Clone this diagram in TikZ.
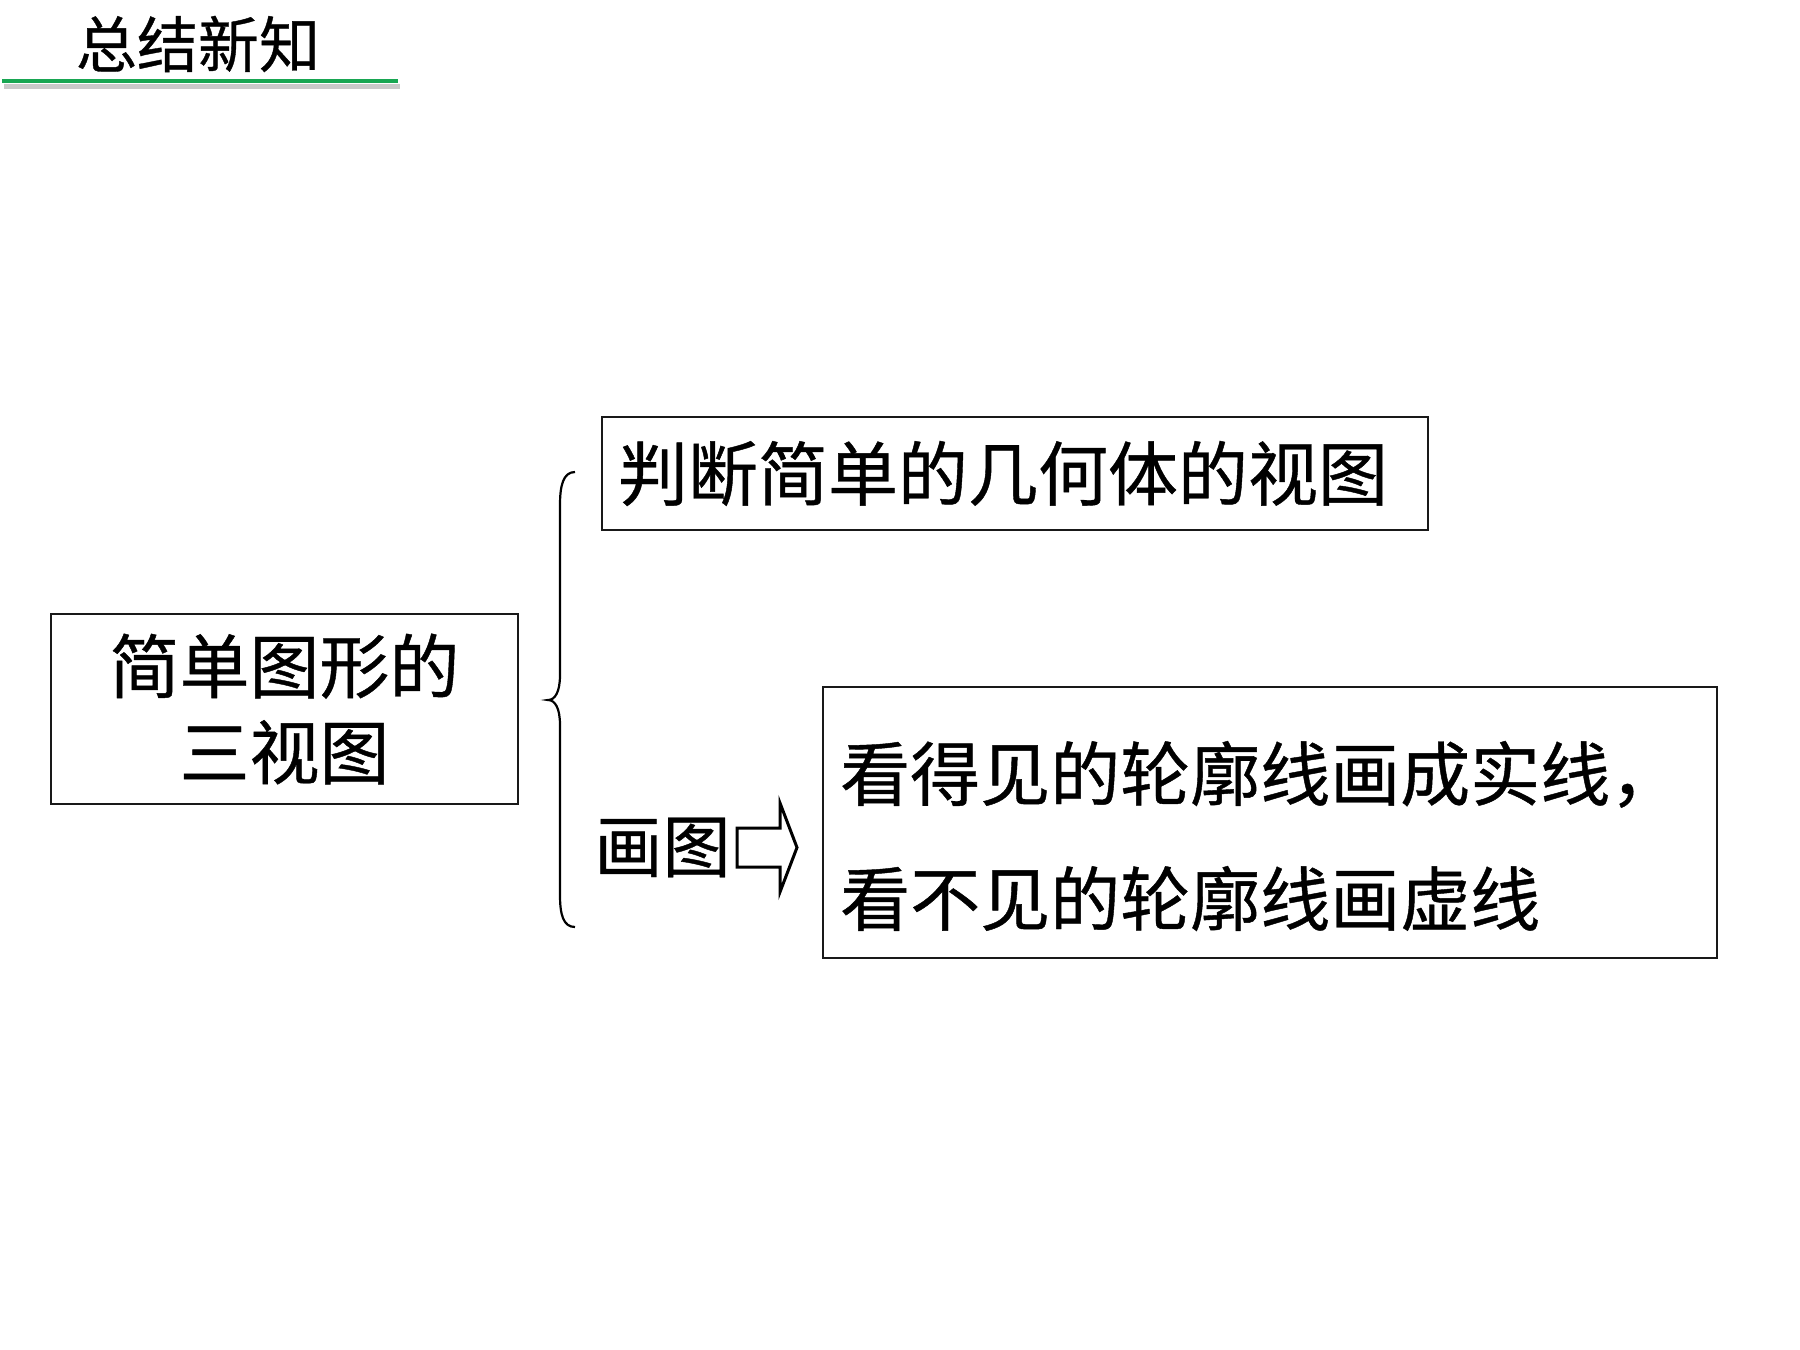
\documentclass[tikz,border=0pt]{standalone}
\usepackage{fontspec}
\newfontfamily\cjk[FakeBold=0.6]{Noto Sans CJK SC}
\usetikzlibrary{positioning}
\definecolor{titlegreen}{RGB}{24,166,82}
\tikzset{
  box/.style={draw=black!90, line width=1.2pt, inner sep=0pt},
  big/.style={font=\cjk\fontsize{35pt}{43pt}\selectfont},
}
\begin{document}
\begin{tikzpicture}[x=0.5pt,y=-0.5pt]
\useasboundingbox (0,0) rectangle (1800,1350);
% title bar
\node[font=\cjk\fontsize{30.5pt}{36pt}\selectfont, inner sep=0pt] (title) at (198,44) {总结新知};
\draw[black!30, line width=2.5pt, opacity=0.7] (4,86) -- (400,86);
\draw[titlegreen, line width=2pt] (2,81) -- (398,81);
% boxes
\node[box, big, align=center, minimum width=233.5pt, minimum height=95pt] (sanshitu) at (284.5,709) {简单图形的\\三视图};
\node[box, big, align=left, text width=397pt, inner xsep=8pt, minimum height=56.5pt] (panduan) at (1015,473.5) {判断简单的几何体的视图};
\node[box, minimum width=447pt, minimum height=135.5pt] (huabox) at (1270,822.5) {};
\node[big, anchor=west, align=left, inner sep=0pt, font=\cjk\fontsize{35pt}{62.5pt}\selectfont] (huatxt) at ([xshift=9pt,yshift=-6.75pt]huabox.west) {看得见的轮廓线画成实线，\\看不见的轮廓线画虚线};
\node[font=\cjk\fontsize{34pt}{40pt}\selectfont, inner sep=0pt] (hua) at (662.5,847.5) {画图};
% brace
\draw[line width=1.1pt] (575,472) .. controls (563,472) and (560,486) .. (560,505) -- (560,675)
  .. controls (560,692) and (555,700) .. (548,700) .. controls (555,700) and (560,708) .. (560,725)
  -- (560,895) .. controls (560,914) and (563,927) .. (575,927);
% block arrow
\coordinate (arr) at (737,847.5);
\draw[line width=1.5pt, fill=white, line join=miter] (arr) ++(0,-19.5) -- (780,828) -- (780,803) -- (797,847.5)
  -- (780,892) -- (780,867) -- (737,867) -- cycle;
\end{tikzpicture}
\end{document}
